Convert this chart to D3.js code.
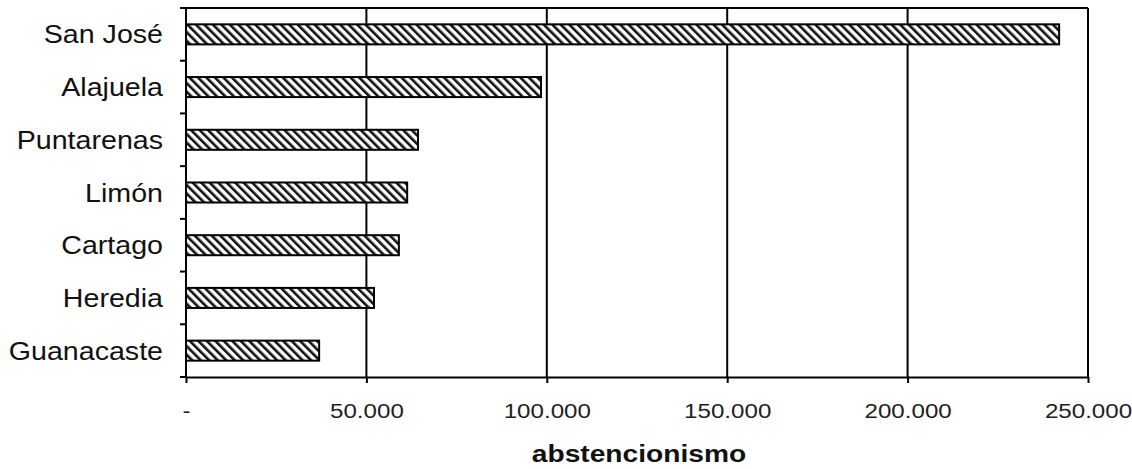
<!DOCTYPE html>
<html>
<head>
<meta charset="utf-8">
<script src="https://cdn.jsdelivr.net/npm/d3@7"></script>
<style>
  html, body { margin: 0; padding: 0; background: #fff; }
  svg { display: block; font-family: "Liberation Sans", Arial, sans-serif; }
</style>
</head>
<body>
<svg id="chart" width="1132" height="469"></svg>
<script>
// Abstencionismo por provincia
const provincias = ["San José", "Alajuela", "Puntarenas", "Limón", "Cartago", "Heredia", "Guanacaste"];
const abstencion = [242000, 98400, 64300, 61300, 59000, 52100, 36900];
const xTicks = [0, 50000, 100000, 150000, 200000, 250000];

const svg = d3.select("#chart");
const margin = { top: 8, right: 44, bottom: 92, left: 186 };
const W = 1132, H = 469;
const iw = W - margin.left - margin.right;
const ih = H - margin.top - margin.bottom;

const defs = svg.append("defs");
const pat = defs.append("pattern")
  .attr("id", "hatch")
  .attr("patternUnits", "userSpaceOnUse")
  .attr("width", 6).attr("height", 6)
  .attr("patternTransform", "rotate(-45)");
pat.append("rect").attr("width", 6).attr("height", 6).attr("fill", "#fff");
pat.append("rect").attr("x", 0).attr("y", 0).attr("width", 2.6).attr("height", 6).attr("fill", "#111");

const g = svg.append("g").attr("transform", `translate(${margin.left},${margin.top})`);

const x = d3.scaleLinear().domain([0, 250000]).range([0, iw]);
const y = d3.scaleBand().domain(provincias).range([0, ih]).paddingInner(0.62).paddingOuter(0.31);
const yEdges = d3.scaleLinear().domain([0, provincias.length]).range([0, ih]);

// vertical gridlines
g.append("g").selectAll("line").data(xTicks.slice(1)).join("line")
  .attr("x1", d => x(d)).attr("x2", d => x(d))
  .attr("y1", 0).attr("y2", ih)
  .attr("stroke", "#000").attr("stroke-width", 2);

// top border
g.append("line").attr("x1", 0).attr("x2", iw).attr("y1", 0).attr("y2", 0)
  .attr("stroke", "#000").attr("stroke-width", 2);

// bars
g.append("g").selectAll("rect").data(provincias).join("rect")
  .attr("x", 0)
  .attr("y", d => y(d))
  .attr("width", (d, i) => x(abstencion[i]))
  .attr("height", y.bandwidth())
  .attr("fill", "url(#hatch)")
  .attr("stroke", "#000").attr("stroke-width", 2);

// x axis
const fmt = d => d === 0 ? "-" : d3.format(",")(d).replace(/,/g, ".");
const xAxis = g.append("g").attr("transform", `translate(0,${ih})`)
  .call(d3.axisBottom(x).tickValues(xTicks).tickFormat(fmt).tickSize(6).tickSizeOuter(0));
xAxis.select(".domain").attr("stroke-width", 2);
xAxis.selectAll(".tick line").attr("stroke-width", 2);
xAxis.selectAll("text")
  .attr("y", null).attr("dy", 0)
  .attr("transform", "translate(0,41) scale(1.15,1)")
  .attr("font-size", 21).attr("fill", "#222")
  .attr("font-family", "Liberation Sans, Arial, sans-serif");

// y axis with ticks at band edges
const yAxis = g.append("g");
yAxis.append("line").attr("x1", 0).attr("x2", 0).attr("y1", 0).attr("y2", ih)
  .attr("stroke", "#000").attr("stroke-width", 2);
yAxis.selectAll("line.tk").data(d3.range(provincias.length + 1)).join("line")
  .attr("class", "tk")
  .attr("x1", -6).attr("x2", 0)
  .attr("y1", d => yEdges(d)).attr("y2", d => yEdges(d))
  .attr("stroke", "#000").attr("stroke-width", 2);
yAxis.selectAll("text").data(provincias).join("text")
  .attr("transform", d => `translate(-23,${y(d) + y.bandwidth() / 2}) scale(1.1,1)`)
  .attr("dy", "0.35em")
  .attr("text-anchor", "end")
  .attr("font-size", 26)
  .attr("fill", "#111")
  .text(d => d);

// axis title
svg.append("text")
  .attr("transform", "translate(639,462) scale(1.15,1)")
  .attr("text-anchor", "middle")
  .attr("font-size", 24.5)
  .attr("font-weight", "bold")
  .attr("fill", "#111")
  .text("abstencionismo");
</script>
</body>
</html>
